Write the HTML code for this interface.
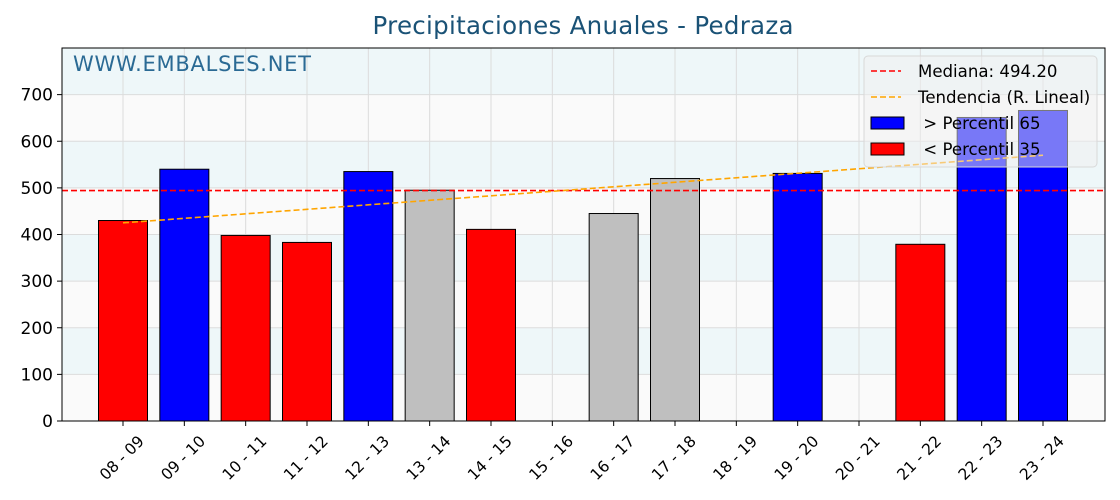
<!DOCTYPE html>
<html><head><meta charset="utf-8"><style>
body{margin:0;background:#fff;font-family:"DejaVu Sans","Liberation Sans",sans-serif}
svg{display:block}
</style></head><body>
<svg id="chart" width="1120" height="500" xmlns="http://www.w3.org/2000/svg"></svg>
<script>
const categories=["08 - 09","09 - 10","10 - 11","11 - 12","12 - 13","13 - 14","14 - 15","15 - 16","16 - 17","17 - 18","18 - 19","19 - 20","20 - 21","21 - 22","22 - 23","23 - 24"];
const values=[430,540,398,383,535,495,411,0,445,520,0,531,0,379,651,666];
const colors=["red","blue","red","red","blue","#bfbfbf","red","#bfbfbf","#bfbfbf","#bfbfbf","#bfbfbf","blue","#bfbfbf","red","blue","blue"];
const yTicks=[0,100,200,300,400,500,600,700];
const median=494.2;
const trendStart=425, trendEnd=570;

const svg=document.getElementById('chart');
const NS="http://www.w3.org/2000/svg";
const L=62,R=1105,T=48,B=421,yMax=800;
const y=v=>B-(v/yMax)*(B-T);
const step=(1043-123)/15;
const x=i=>123+i*step;
function mk(tag,attrs,parent){const e=document.createElementNS(NS,tag);for(const k in attrs)e.setAttribute(k,attrs[k]);(parent||svg).appendChild(e);return e;}

let t=mk('text',{x:583,y:34,'text-anchor':'middle','font-size':24.5,fill:'#1a5276',textLength:421});


t.textContent='Precipitaciones Anuales - Pedraza';

for(let k=0;k<8;k++){
  const r=mk('rect',{x:L,y:y((k+1)*100),width:R-L,height:y(k*100)-y((k+1)*100),fill:k%2?'#eef7f9':'#fafafa'});
  
  
}
yTicks.forEach(v=>{const g=mk('line',{x1:L,x2:R,y1:y(v),y2:y(v),stroke:'#dcdcdc'});
  
  });
categories.forEach((c,i)=>{const g=mk('line',{x1:x(i),x2:x(i),y1:T,y2:B,stroke:'#dcdcdc'});
  
  });

let w=mk('text',{x:73,y:71,'font-size':21,fill:'#2a6a94',textLength:238});


w.textContent='WWW.EMBALSES.NET';

const bw=49;
values.forEach((v,i)=>{
  if(v<=0)return;
  const b=mk('rect',{x:x(i)-bw/2,y:y(v),width:bw,height:B-y(v),fill:colors[i],stroke:'#000','stroke-width':1});
  
  
});

let m=mk('line',{x1:L,x2:R,y1:y(median),y2:y(median),stroke:'red','stroke-width':1.6,'stroke-dasharray':'6,3'});


let tr=mk('line',{x1:x(0),x2:x(15),y1:y(trendStart),y2:y(trendEnd),stroke:'orange','stroke-width':1.6,'stroke-dasharray':'6,3'});



let f=mk('rect',{x:L,y:T,width:R-L,height:B-T,fill:'none',stroke:'#000','stroke-width':1});



yTicks.forEach(v=>{
  mk('line',{x1:L-5,x2:L,y1:y(v),y2:y(v),stroke:'#000'});
  const l=mk('text',{x:L-9,y:y(v)+6,'text-anchor':'end','font-size':17,fill:'#000'});
  
  
  l.textContent=v;
});
categories.forEach((c,i)=>{
  mk('line',{x1:x(i),x2:x(i),y1:B,y2:B+5,stroke:'#000'});
  const cx=x(i)-1, cy=B+37;
  const l=mk('text',{x:cx,y:cy+5,'text-anchor':'middle','font-size':15.5,fill:'#000',transform:`rotate(-45 ${cx} ${cy})`});
  
  
  l.textContent=c;
});

const lg=mk('g',{});


mk('rect',{x:864,y:56,width:233,height:111,rx:4,fill:'rgba(240,240,240,0.5)',stroke:'#d8d8d8'},lg);
const items=[['line','red','Mediana: 494.20'],['line','orange','Tendencia (R. Lineal)'],['rect','blue',' > Percentil 65'],['rect','red',' < Percentil 35']];
items.forEach((it,k)=>{
  const cy=71+k*26;
  if(it[0]=='line') mk('line',{x1:871,x2:901,y1:cy,y2:cy,stroke:it[1],'stroke-width':1.6,'stroke-dasharray':'6,3'},lg);
  else mk('rect',{x:871,y:cy-6,width:33,height:12,fill:it[1],stroke:'#000'},lg);
  const e=mk('text',{x:918,y:cy+6,'font-size':16.6,fill:'#000'},lg);
  
  
  e.textContent=it[2].replace(/^ /,'\u00a0');
});
</script>
</body></html>
